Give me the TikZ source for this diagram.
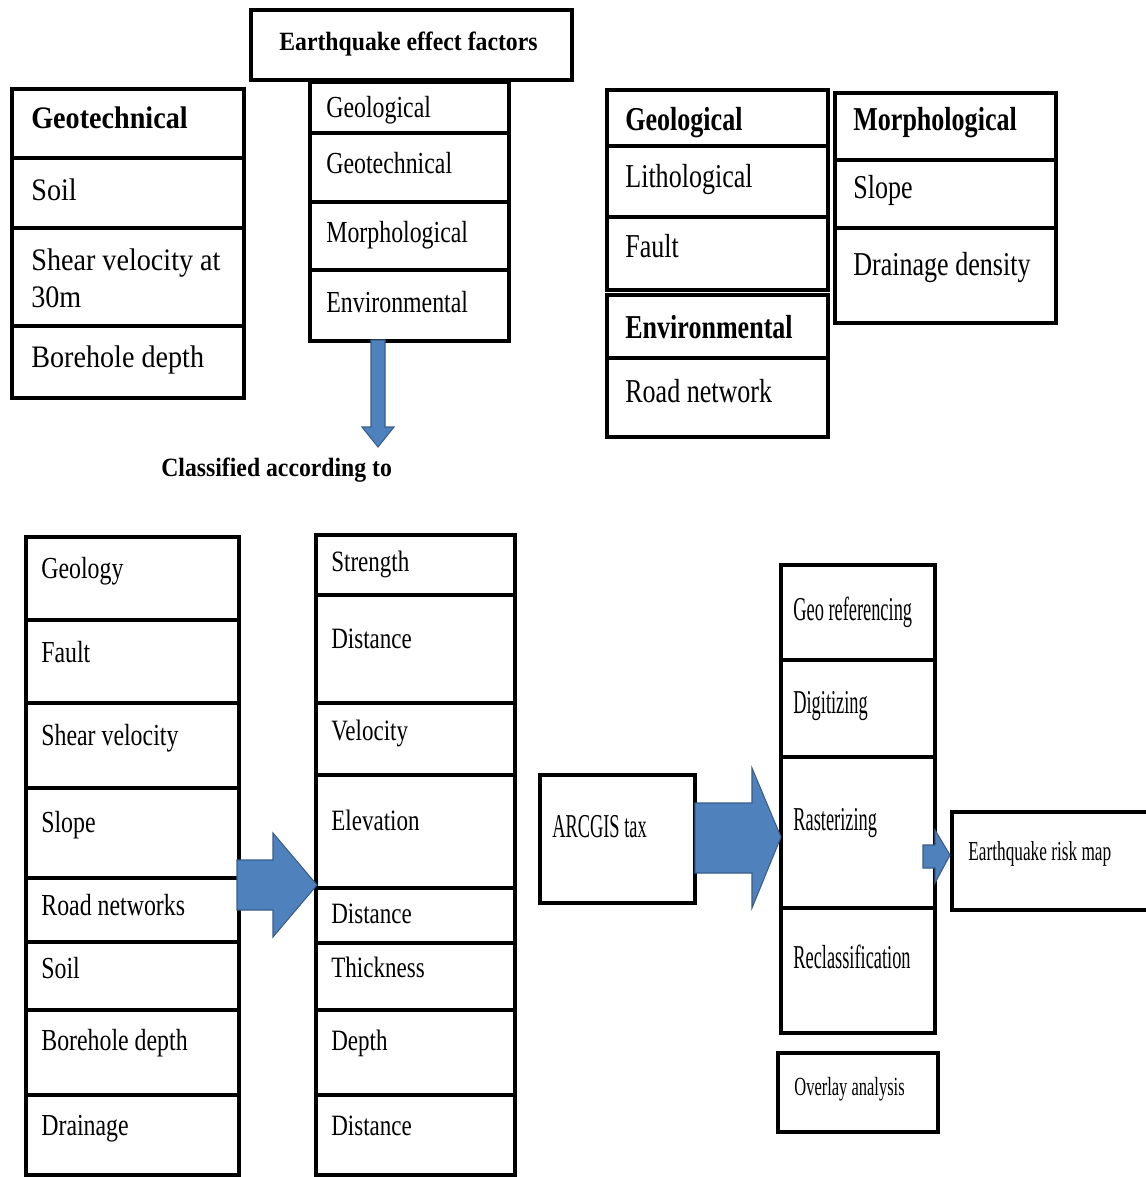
\documentclass[tikz,border=0pt]{standalone}
\usepackage{fontspec}
\usepackage{xcolor}
\newfontfamily\wideserif{Liberation Serif}[FakeStretch=0.9]
\newfontfamily\midserif{Liberation Serif}[FakeStretch=0.78]
\newfontfamily\slimserif{Liberation Serif}[FakeStretch=0.63]
\newfontfamily\thinserif{Liberation Serif}[FakeStretch=0.55]
\usetikzlibrary{positioning}
\definecolor{arrowblue}{HTML}{4F81BD}
\definecolor{arrowedge}{HTML}{385D8A}

\begin{document}
\begin{tikzpicture}[
    x=0.02cm, y=-0.02cm,
    cell/.style n args={4}{draw=black, line width=2pt, minimum width=#1*0.02cm, minimum height=#2*0.02cm, anchor=north west, inner sep=0pt, outer sep=0pt, label={[anchor=base west, inner sep=0pt, yshift=-#3*0.02cm]north west:#4}},
    blockarrow/.style={fill=arrowblue, draw=arrowedge, line width=0.6pt, line join=miter},
    topleft/.style={every label/.style={font=\wideserif\fontsize{17.8}{21}\selectfont, align=left, xshift=19*0.02cm}},
    topmid/.style={every label/.style={font=\midserif\fontsize{17.4}{20}\selectfont, xshift=16*0.02cm}},
    topright/.style={every label/.style={font=\midserif\fontsize{19}{22}\selectfont, xshift=18*0.02cm}},
    lowleft/.style={every label/.style={font=\midserif\fontsize{17.4}{20}\selectfont, xshift=15*0.02cm}},
    lowmid/.style={every label/.style={font=\midserif\fontsize{16.8}{20}\selectfont, xshift=15*0.02cm}},
    process/.style={every label/.style={font=\thinserif\fontsize{19}{22}\selectfont, xshift=12*0.02cm}},
    result/.style={every label/.style={font=\slimserif\fontsize{15.6}{18}\selectfont, xshift=16*0.02cm}}
]
\useasboundingbox (0,0) rectangle (1146,1177);
\fill[white] (0,0) rectangle (1146,1177);
\clip (0,0) rectangle (1146,1177);

% Nodes
\begin{scope}[every label/.style={font=\wideserif\bfseries\fontsize{15}{18}\selectfont, xshift=28*0.02cm}]
\node[cell={321}{70}{40}{Earthquake effect factors}, line width=2.4pt] (title) at (251,10) {};
\end{scope}

\begin{scope}[topleft]
\node[cell={232}{69}{39}{\bfseries Geotechnical}] (tl-head) at (12,89) {};
\node[cell={232}{70}{42}{Soil}] (tl-soil) at (12,158) {};
\node[cell={232}{98}{79}{Shear velocity at\\30m}] (tl-shear) at (12,228) {};
\node[cell={232}{72}{41}{Borehole depth}] (tl-bore) at (12,326) {};
\end{scope}

\begin{scope}[topmid]
\node[cell={199}{51}{35}{Geological}] (ef-geol) at (310,82) {};
\node[cell={199}{69}{40}{Geotechnical}] (ef-geot) at (310,133) {};
\node[cell={199}{68}{40}{Morphological}] (ef-morph) at (310,202) {};
\node[cell={199}{71}{42}{Environmental}] (ef-env) at (310,270) {};
\end{scope}

\begin{scope}[topright]
\node[cell={221}{56}{40}{\bfseries Geological}] (gl-head) at (607,90) {};
\node[cell={221}{71}{41}{Lithological}] (gl-lith) at (607,146) {};
\node[cell={221}{73}{40}{Fault}] (gl-fault) at (607,217) {};
\node[cell={221}{63}{43}{\bfseries Environmental}] (en-head) at (607,295) {};
\node[cell={221}{79}{44}{Road network}] (en-road) at (607,358) {};
\node[cell={221}{67}{37}{\bfseries Morphological}] (mo-head) at (835,93) {};
\node[cell={221}{68}{38}{Slope}] (mo-slope) at (835,160) {};
\node[cell={221}{95}{47}{Drainage density}] (mo-drain) at (835,228) {};
\end{scope}

\node[font=\wideserif\bfseries\fontsize{15}{18}\selectfont, anchor=base west, inner sep=0pt] (classified) at (161,476) {Classified according to};

\begin{scope}[lowleft]
\node[cell={213}{83}{41}{Geology}] (c1-geology) at (26,537) {};
\node[cell={213}{83}{42}{Fault}] (c1-fault) at (26,620) {};
\node[cell={213}{85}{42}{Shear velocity}] (c1-shear) at (26,703) {};
\node[cell={213}{90}{44}{Slope}] (c1-slope) at (26,788) {};
\node[cell={213}{64}{37}{Road networks}] (c1-road) at (26,878) {};
\node[cell={213}{68}{36}{Soil}] (c1-soil) at (26,942) {};
\node[cell={213}{85}{40}{Borehole depth}] (c1-bore) at (26,1010) {};
\node[cell={213}{80}{40}{Drainage}] (c1-drain) at (26,1095) {};
\end{scope}

\begin{scope}[lowmid]
\node[cell={199}{60}{36}{Strength}] (c2-strength) at (316,535) {};
\node[cell={199}{108}{53}{Distance}] (c2-dist1) at (316,595) {};
\node[cell={199}{72}{37}{Velocity}] (c2-veloc) at (316,703) {};
\node[cell={199}{113}{55}{Elevation}] (c2-elev) at (316,775) {};
\node[cell={199}{55}{35}{Distance}] (c2-dist2) at (316,888) {};
\node[cell={199}{67}{34}{Thickness}] (c2-thick) at (316,943) {};
\node[cell={199}{85}{40}{Depth}] (c2-depth) at (316,1010) {};
\node[cell={199}{80}{40}{Distance}] (c2-dist3) at (316,1095) {};
\end{scope}

\begin{scope}[process]
\node[cell={155}{128}{62}{ARCGIS tax}, every label/.append style={xshift=1*0.02cm}] (arcgis) at (540,775) {};
\node[cell={154}{95}{55}{Geo referencing}] (pr-georef) at (781,565) {};
\node[cell={154}{97}{53}{Digitizing}] (pr-digit) at (781,660) {};
\node[cell={154}{151}{73}{Rasterizing}] (pr-raster) at (781,757) {};
\node[cell={154}{125}{60}{Reclassification}] (pr-reclass) at (781,908) {};
\end{scope}

\begin{scope}[result]
\node[cell={200}{98}{48}{Earthquake risk map}] (riskmap) at (952,812) {};
\end{scope}
\begin{scope}[result, every label/.append style={font=\slimserif\fontsize{14.9}{17}\selectfont}]
\node[cell={160}{79}{42}{Overlay analysis}] (overlay) at (778,1053) {};
\end{scope}

% Edges
\draw[blockarrow, shift={(ef-env.south west)}] (61,-1) -- (75,-1) -- (75,86) -- (84,86) -- (68,106) -- (52,86) -- (61,86) -- cycle;
\draw[blockarrow, shift={(c2-dist2.north west)}] (-79,-28) -- (-43,-28) -- (-43,-55) -- (1,-3) -- (-43,49) -- (-43,22) -- (-79,22) -- cycle;
\draw[blockarrow, shift={(pr-raster.west)}] (-86,-29.5) -- (-29,-29.5) -- (-29,-64.5) -- (0,4.5) -- (-29,75.5) -- (-29,40.5) -- (-86,40.5) -- cycle;
\draw[blockarrow, shift={(riskmap.west)}] (-29,-16) -- (-17,-16) -- (-17,-31) -- (-2,-6) -- (-17,22) -- (-17,7) -- (-29,7) -- cycle;

\end{tikzpicture}
\end{document}
